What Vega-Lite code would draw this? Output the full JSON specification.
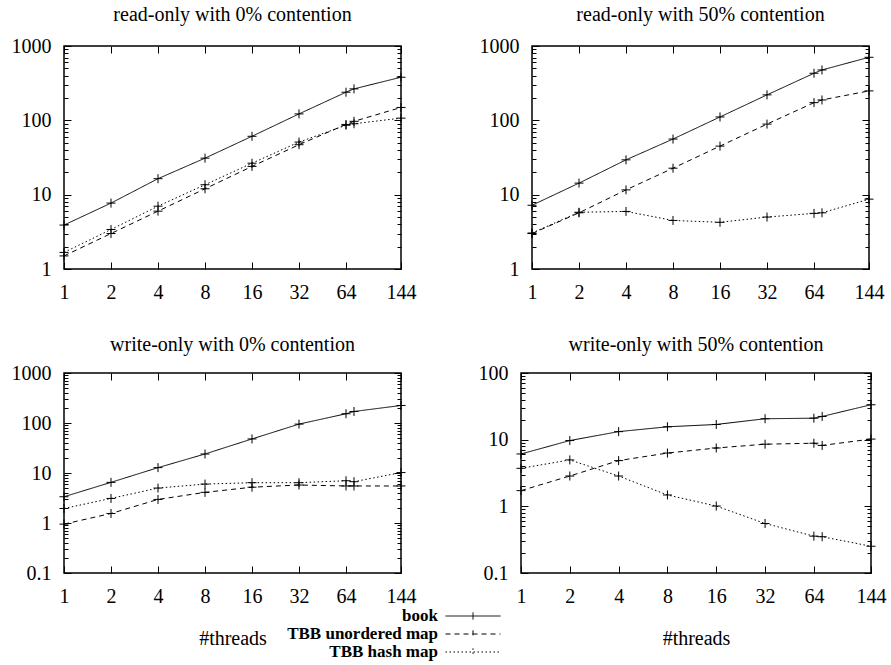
{
  "$schema": "https://vega.github.io/schema/vega-lite/v6.json",
  "padding": {"left": 10, "top": 4, "right": 5, "bottom": 5},
  "background": "white",
  "config": {
    "font": "Liberation Serif",
    "view": {"stroke": "black", "strokeWidth": 1.5},
    "axis": {"grid": false, "domain": false, "tickColor": "black", "tickWidth": 1, "labelFont": "Liberation Serif", "labelFontSize": 20, "labelColor": "black", "titleFont": "Liberation Serif", "titleFontSize": 20, "titleFontWeight": "normal", "titleColor": "black", "labelFlush": false, "labelOverlap": false, "labelBound": false},
    "title": {"font": "Liberation Serif", "fontSize": 20, "fontWeight": "normal", "color": "black", "offset": 11}
  },
  "data": {"values": [
    {"p":"p1","s":"book","t":1,"v":3.9},{"p":"p1","s":"book","t":2,"v":7.7},{"p":"p1","s":"book","t":4,"v":16.4},{"p":"p1","s":"book","t":8,"v":31},{"p":"p1","s":"book","t":16,"v":61},{"p":"p1","s":"book","t":32,"v":122},{"p":"p1","s":"book","t":64,"v":239},{"p":"p1","s":"book","t":72,"v":265},{"p":"p1","s":"book","t":144,"v":380},
    {"p":"p1","s":"TBB unordered map","t":1,"v":1.5},{"p":"p1","s":"TBB unordered map","t":2,"v":3.0},{"p":"p1","s":"TBB unordered map","t":4,"v":6.0},{"p":"p1","s":"TBB unordered map","t":8,"v":12},{"p":"p1","s":"TBB unordered map","t":16,"v":24},{"p":"p1","s":"TBB unordered map","t":32,"v":47},{"p":"p1","s":"TBB unordered map","t":64,"v":88},{"p":"p1","s":"TBB unordered map","t":72,"v":97},{"p":"p1","s":"TBB unordered map","t":144,"v":149},
    {"p":"p1","s":"TBB hash map","t":1,"v":1.67},{"p":"p1","s":"TBB hash map","t":2,"v":3.4},{"p":"p1","s":"TBB hash map","t":4,"v":7.0},{"p":"p1","s":"TBB hash map","t":8,"v":13.6},{"p":"p1","s":"TBB hash map","t":16,"v":26.5},{"p":"p1","s":"TBB hash map","t":32,"v":51},{"p":"p1","s":"TBB hash map","t":64,"v":86},{"p":"p1","s":"TBB hash map","t":72,"v":90},{"p":"p1","s":"TBB hash map","t":144,"v":107},
    {"p":"p2","s":"book","t":1,"v":7.2},{"p":"p2","s":"book","t":2,"v":14.3},{"p":"p2","s":"book","t":4,"v":29.4},{"p":"p2","s":"book","t":8,"v":56},{"p":"p2","s":"book","t":16,"v":111},{"p":"p2","s":"book","t":32,"v":220},{"p":"p2","s":"book","t":64,"v":430},{"p":"p2","s":"book","t":72,"v":476},{"p":"p2","s":"book","t":144,"v":705},
    {"p":"p2","s":"TBB unordered map","t":1,"v":3.0},{"p":"p2","s":"TBB unordered map","t":2,"v":5.7},{"p":"p2","s":"TBB unordered map","t":4,"v":11.6},{"p":"p2","s":"TBB unordered map","t":8,"v":22.7},{"p":"p2","s":"TBB unordered map","t":16,"v":45},{"p":"p2","s":"TBB unordered map","t":32,"v":89},{"p":"p2","s":"TBB unordered map","t":64,"v":173},{"p":"p2","s":"TBB unordered map","t":72,"v":188},{"p":"p2","s":"TBB unordered map","t":144,"v":249},
    {"p":"p2","s":"TBB hash map","t":1,"v":3.05},{"p":"p2","s":"TBB hash map","t":2,"v":5.8},{"p":"p2","s":"TBB hash map","t":4,"v":5.95},{"p":"p2","s":"TBB hash map","t":8,"v":4.5},{"p":"p2","s":"TBB hash map","t":16,"v":4.25},{"p":"p2","s":"TBB hash map","t":32,"v":5.0},{"p":"p2","s":"TBB hash map","t":64,"v":5.6},{"p":"p2","s":"TBB hash map","t":72,"v":5.7},{"p":"p2","s":"TBB hash map","t":144,"v":8.7},
    {"p":"p3","s":"book","t":1,"v":3.35},{"p":"p3","s":"book","t":2,"v":6.5},{"p":"p3","s":"book","t":4,"v":12.8},{"p":"p3","s":"book","t":8,"v":24},{"p":"p3","s":"book","t":16,"v":48},{"p":"p3","s":"book","t":32,"v":95},{"p":"p3","s":"book","t":64,"v":153},{"p":"p3","s":"book","t":72,"v":170},{"p":"p3","s":"book","t":144,"v":224},
    {"p":"p3","s":"TBB unordered map","t":1,"v":0.95},{"p":"p3","s":"TBB unordered map","t":2,"v":1.55},{"p":"p3","s":"TBB unordered map","t":4,"v":2.96},{"p":"p3","s":"TBB unordered map","t":8,"v":4.1},{"p":"p3","s":"TBB unordered map","t":16,"v":5.2},{"p":"p3","s":"TBB unordered map","t":32,"v":5.75},{"p":"p3","s":"TBB unordered map","t":64,"v":5.5},{"p":"p3","s":"TBB unordered map","t":72,"v":5.5},{"p":"p3","s":"TBB unordered map","t":144,"v":5.5},
    {"p":"p3","s":"TBB hash map","t":1,"v":1.95},{"p":"p3","s":"TBB hash map","t":2,"v":3.1},{"p":"p3","s":"TBB hash map","t":4,"v":5.0},{"p":"p3","s":"TBB hash map","t":8,"v":6.0},{"p":"p3","s":"TBB hash map","t":16,"v":6.4},{"p":"p3","s":"TBB hash map","t":32,"v":6.4},{"p":"p3","s":"TBB hash map","t":64,"v":7.0},{"p":"p3","s":"TBB hash map","t":72,"v":6.7},{"p":"p3","s":"TBB hash map","t":144,"v":10.2},
    {"p":"p4","s":"book","t":1,"v":6.1},{"p":"p4","s":"book","t":2,"v":9.7},{"p":"p4","s":"book","t":4,"v":13.2},{"p":"p4","s":"book","t":8,"v":15.6},{"p":"p4","s":"book","t":16,"v":16.9},{"p":"p4","s":"book","t":32,"v":20.6},{"p":"p4","s":"book","t":64,"v":21.0},{"p":"p4","s":"book","t":72,"v":22.3},{"p":"p4","s":"book","t":144,"v":33.4},
    {"p":"p4","s":"TBB unordered map","t":1,"v":1.72},{"p":"p4","s":"TBB unordered map","t":2,"v":2.85},{"p":"p4","s":"TBB unordered map","t":4,"v":4.85},{"p":"p4","s":"TBB unordered map","t":8,"v":6.3},{"p":"p4","s":"TBB unordered map","t":16,"v":7.5},{"p":"p4","s":"TBB unordered map","t":32,"v":8.55},{"p":"p4","s":"TBB unordered map","t":64,"v":8.85},{"p":"p4","s":"TBB unordered map","t":72,"v":8.2},{"p":"p4","s":"TBB unordered map","t":144,"v":10.2},
    {"p":"p4","s":"TBB hash map","t":1,"v":3.72},{"p":"p4","s":"TBB hash map","t":2,"v":4.97},{"p":"p4","s":"TBB hash map","t":4,"v":2.85},{"p":"p4","s":"TBB hash map","t":8,"v":1.48},{"p":"p4","s":"TBB hash map","t":16,"v":1.01},{"p":"p4","s":"TBB hash map","t":32,"v":0.553},{"p":"p4","s":"TBB hash map","t":64,"v":0.357},{"p":"p4","s":"TBB hash map","t":72,"v":0.35},{"p":"p4","s":"TBB hash map","t":144,"v":0.252}
  ]},
  "spacing": 31,
  "vconcat": [
    {"hconcat": [
      {
        "title": {"text": "read-only with 0% contention", "offset": 11},
        "width": 337, "height": 223,
        "transform": [{"filter": "datum.p == 'p1'"}],
        "resolve": {"scale": {"x": "shared", "y": "shared"}, "axis": {"x": "independent", "y": "independent"}},
        "layer": [
          {"mark": {"type": "line", "stroke": "black", "strokeWidth": 1},
           "encoding": {
             "x": {"field": "t", "type": "quantitative", "scale": {"type": "log", "domain": [1, 144], "nice": false}, "axis": {"orient": "bottom", "values": [1,2,4,8,16,32,64,144], "labelExpr": "datum.value + ''", "tickSize": -7, "labelPadding": 20, "title": null}},
             "y": {"field": "v", "type": "quantitative", "scale": {"type": "log", "domain": [1, 1000], "nice": false}, "axis": {"orient": "left", "values": [1,10,100,1000], "labelExpr": "format(datum.value, '~g')", "tickSize": -7, "labelPadding": 20, "title": null}},
             "strokeDash": {"field": "s", "type": "nominal", "scale": {"domain": ["book", "TBB unordered map", "TBB hash map"], "range": [[1, 0], [5, 4], [1.5, 2.5]]},
               "legend": {"title": null, "orient": "none", "legendX": 399, "legendY": 560, "symbolType": "M-3,0L3,0M0,-0.4L0,0.4", "symbolSize": 336, "symbolStrokeColor": "black", "symbolStrokeWidth": 1, "symbolFillColor": "transparent", "labelFont": "Liberation Serif", "labelFontSize": 17, "labelFontWeight": "bold", "labelColor": "black", "labelAlign": "right", "labelOffset": -45, "rowPadding": -2, "labelLimit": 0}}
           }},
          {"mark": {"type": "point", "shape": "M-1,0L1,0M0,-1L0,1", "size": 81, "filled": false, "stroke": "black", "strokeWidth": 1, "opacity": 1},
           "encoding": {
             "x": {"field": "t", "type": "quantitative", "scale": {"type": "log", "domain": [1, 144], "nice": false}, "axis": {"orient": "top", "values": [1,2,4,8,16,32,64,144], "labels": false, "tickSize": -7, "title": null}},
             "y": {"field": "v", "type": "quantitative", "scale": {"type": "log", "domain": [1, 1000], "nice": false}, "axis": {"orient": "right", "values": [1,10,100,1000], "labels": false, "tickSize": -7, "title": null}}
           }},
          {"mark": {"type": "point", "opacity": 0},
           "encoding": {
             "x": {"field": "t", "type": "quantitative", "scale": {"type": "log", "domain": [1, 144], "nice": false}, "axis": null},
             "y": {"field": "v", "type": "quantitative", "scale": {"type": "log", "domain": [1, 1000], "nice": false}, "axis": {"orient": "left", "values": [2,3,4,5,6,7,8,9,20,30,40,50,60,70,80,90,200,300,400,500,600,700,800,900], "labels": false, "tickSize": -4, "title": null}}
           }},
          {"mark": {"type": "point", "opacity": 0},
           "encoding": {
             "x": {"field": "t", "type": "quantitative", "scale": {"type": "log", "domain": [1, 144], "nice": false}, "axis": null},
             "y": {"field": "v", "type": "quantitative", "scale": {"type": "log", "domain": [1, 1000], "nice": false}, "axis": {"orient": "right", "values": [2,3,4,5,6,7,8,9,20,30,40,50,60,70,80,90,200,300,400,500,600,700,800,900], "labels": false, "tickSize": -4, "title": null}}
           }}
        ]
      },
      {
        "title": {"text": "read-only with 50% contention", "offset": 11},
        "width": 337, "height": 223,
        "transform": [{"filter": "datum.p == 'p2'"}],
        "resolve": {"scale": {"x": "shared", "y": "shared"}, "axis": {"x": "independent", "y": "independent"}},
        "layer": [
          {"mark": {"type": "line", "stroke": "black", "strokeWidth": 1},
           "encoding": {
             "x": {"field": "t", "type": "quantitative", "scale": {"type": "log", "domain": [1, 144], "nice": false}, "axis": {"orient": "bottom", "values": [1,2,4,8,16,32,64,144], "labelExpr": "datum.value + ''", "tickSize": -7, "labelPadding": 20, "title": null}},
             "y": {"field": "v", "type": "quantitative", "scale": {"type": "log", "domain": [1, 1000], "nice": false}, "axis": {"orient": "left", "values": [1,10,100,1000], "labelExpr": "format(datum.value, '~g')", "tickSize": -7, "labelPadding": 20, "title": null}},
             "strokeDash": {"field": "s", "type": "nominal", "scale": {"domain": ["book", "TBB unordered map", "TBB hash map"], "range": [[1, 0], [5, 4], [1.5, 2.5]]}}
           }},
          {"mark": {"type": "point", "shape": "M-1,0L1,0M0,-1L0,1", "size": 81, "filled": false, "stroke": "black", "strokeWidth": 1, "opacity": 1},
           "encoding": {
             "x": {"field": "t", "type": "quantitative", "scale": {"type": "log", "domain": [1, 144], "nice": false}, "axis": {"orient": "top", "values": [1,2,4,8,16,32,64,144], "labels": false, "tickSize": -7, "title": null}},
             "y": {"field": "v", "type": "quantitative", "scale": {"type": "log", "domain": [1, 1000], "nice": false}, "axis": {"orient": "right", "values": [1,10,100,1000], "labels": false, "tickSize": -7, "title": null}}
           }},
          {"mark": {"type": "point", "opacity": 0},
           "encoding": {
             "x": {"field": "t", "type": "quantitative", "scale": {"type": "log", "domain": [1, 144], "nice": false}, "axis": null},
             "y": {"field": "v", "type": "quantitative", "scale": {"type": "log", "domain": [1, 1000], "nice": false}, "axis": {"orient": "left", "values": [2,3,4,5,6,7,8,9,20,30,40,50,60,70,80,90,200,300,400,500,600,700,800,900], "labels": false, "tickSize": -4, "title": null}}
           }},
          {"mark": {"type": "point", "opacity": 0},
           "encoding": {
             "x": {"field": "t", "type": "quantitative", "scale": {"type": "log", "domain": [1, 144], "nice": false}, "axis": null},
             "y": {"field": "v", "type": "quantitative", "scale": {"type": "log", "domain": [1, 1000], "nice": false}, "axis": {"orient": "right", "values": [2,3,4,5,6,7,8,9,20,30,40,50,60,70,80,90,200,300,400,500,600,700,800,900], "labels": false, "tickSize": -4, "title": null}}
           }}
        ]
      }
    ], "spacing": 61},
    {"hconcat": [
      {
        "title": {"text": "write-only with 0% contention", "offset": 8},
        "width": 337, "height": 200,
        "transform": [{"filter": "datum.p == 'p3'"}],
        "resolve": {"scale": {"x": "shared", "y": "shared"}, "axis": {"x": "independent", "y": "independent"}},
        "layer": [
          {"mark": {"type": "line", "stroke": "black", "strokeWidth": 1},
           "encoding": {
             "x": {"field": "t", "type": "quantitative", "scale": {"type": "log", "domain": [1, 144], "nice": false}, "axis": {"orient": "bottom", "values": [1,2,4,8,16,32,64,144], "labelExpr": "datum.value + ''", "tickSize": -7, "labelPadding": 20, "title": "#threads", "titlePadding": 22}},
             "y": {"field": "v", "type": "quantitative", "scale": {"type": "log", "domain": [0.1, 1000], "nice": false}, "axis": {"orient": "left", "values": [0.1,1,10,100,1000], "labelExpr": "format(datum.value, '~g')", "tickSize": -7, "labelPadding": 20, "title": null}},
             "strokeDash": {"field": "s", "type": "nominal", "scale": {"domain": ["book", "TBB unordered map", "TBB hash map"], "range": [[1, 0], [5, 4], [1.5, 2.5]]}}
           }},
          {"mark": {"type": "point", "shape": "M-1,0L1,0M0,-1L0,1", "size": 81, "filled": false, "stroke": "black", "strokeWidth": 1, "opacity": 1},
           "encoding": {
             "x": {"field": "t", "type": "quantitative", "scale": {"type": "log", "domain": [1, 144], "nice": false}, "axis": {"orient": "top", "values": [1,2,4,8,16,32,64,144], "labels": false, "tickSize": -7, "title": null}},
             "y": {"field": "v", "type": "quantitative", "scale": {"type": "log", "domain": [0.1, 1000], "nice": false}, "axis": {"orient": "right", "values": [0.1,1,10,100,1000], "labels": false, "tickSize": -7, "title": null}}
           }},
          {"mark": {"type": "point", "opacity": 0},
           "encoding": {
             "x": {"field": "t", "type": "quantitative", "scale": {"type": "log", "domain": [1, 144], "nice": false}, "axis": null},
             "y": {"field": "v", "type": "quantitative", "scale": {"type": "log", "domain": [0.1, 1000], "nice": false}, "axis": {"orient": "left", "values": [0.2,0.3,0.4,0.5,0.6,0.7,0.8,0.9,2,3,4,5,6,7,8,9,20,30,40,50,60,70,80,90,200,300,400,500,600,700,800,900], "labels": false, "tickSize": -4, "title": null}}
           }},
          {"mark": {"type": "point", "opacity": 0},
           "encoding": {
             "x": {"field": "t", "type": "quantitative", "scale": {"type": "log", "domain": [1, 144], "nice": false}, "axis": null},
             "y": {"field": "v", "type": "quantitative", "scale": {"type": "log", "domain": [0.1, 1000], "nice": false}, "axis": {"orient": "right", "values": [0.2,0.3,0.4,0.5,0.6,0.7,0.8,0.9,2,3,4,5,6,7,8,9,20,30,40,50,60,70,80,90,200,300,400,500,600,700,800,900], "labels": false, "tickSize": -4, "title": null}}
           }}
        ]
      },
      {
        "title": {"text": "write-only with 50% contention", "offset": 8},
        "width": 350, "height": 200,
        "transform": [{"filter": "datum.p == 'p4'"}],
        "resolve": {"scale": {"x": "shared", "y": "shared"}, "axis": {"x": "independent", "y": "independent"}},
        "layer": [
          {"mark": {"type": "line", "stroke": "black", "strokeWidth": 1},
           "encoding": {
             "x": {"field": "t", "type": "quantitative", "scale": {"type": "log", "domain": [1, 144], "nice": false}, "axis": {"orient": "bottom", "values": [1,2,4,8,16,32,64,144], "labelExpr": "datum.value + ''", "tickSize": -7, "labelPadding": 20, "title": "#threads", "titlePadding": 22}},
             "y": {"field": "v", "type": "quantitative", "scale": {"type": "log", "domain": [0.1, 100], "nice": false}, "axis": {"orient": "left", "values": [0.1,1,10,100], "labelExpr": "format(datum.value, '~g')", "tickSize": -7, "labelPadding": 20, "title": null}},
             "strokeDash": {"field": "s", "type": "nominal", "scale": {"domain": ["book", "TBB unordered map", "TBB hash map"], "range": [[1, 0], [5, 4], [1.5, 2.5]]}}
           }},
          {"mark": {"type": "point", "shape": "M-1,0L1,0M0,-1L0,1", "size": 81, "filled": false, "stroke": "black", "strokeWidth": 1, "opacity": 1},
           "encoding": {
             "x": {"field": "t", "type": "quantitative", "scale": {"type": "log", "domain": [1, 144], "nice": false}, "axis": {"orient": "top", "values": [1,2,4,8,16,32,64,144], "labels": false, "tickSize": -7, "title": null}},
             "y": {"field": "v", "type": "quantitative", "scale": {"type": "log", "domain": [0.1, 100], "nice": false}, "axis": {"orient": "right", "values": [0.1,1,10,100], "labels": false, "tickSize": -7, "title": null}}
           }},
          {"mark": {"type": "point", "opacity": 0},
           "encoding": {
             "x": {"field": "t", "type": "quantitative", "scale": {"type": "log", "domain": [1, 144], "nice": false}, "axis": null},
             "y": {"field": "v", "type": "quantitative", "scale": {"type": "log", "domain": [0.1, 100], "nice": false}, "axis": {"orient": "left", "values": [0.2,0.3,0.4,0.5,0.6,0.7,0.8,0.9,2,3,4,5,6,7,8,9,20,30,40,50,60,70,80,90], "labels": false, "tickSize": -4, "title": null}}
           }},
          {"mark": {"type": "point", "opacity": 0},
           "encoding": {
             "x": {"field": "t", "type": "quantitative", "scale": {"type": "log", "domain": [1, 144], "nice": false}, "axis": null},
             "y": {"field": "v", "type": "quantitative", "scale": {"type": "log", "domain": [0.1, 100], "nice": false}, "axis": {"orient": "right", "values": [0.2,0.3,0.4,0.5,0.6,0.7,0.8,0.9,2,3,4,5,6,7,8,9,20,30,40,50,60,70,80,90], "labels": false, "tickSize": -4, "title": null}}
           }}
        ]
      }
    ], "spacing": 60}
  ]
}
